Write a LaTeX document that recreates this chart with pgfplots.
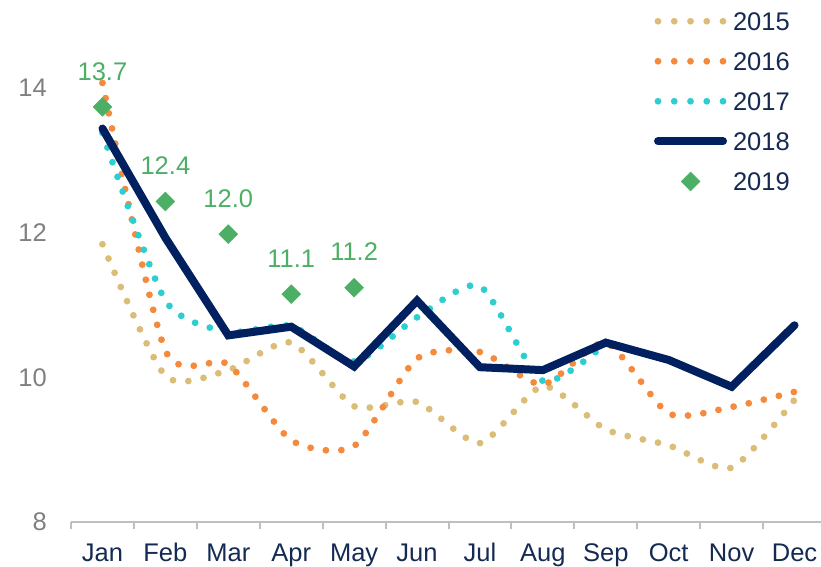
\documentclass[border=0pt]{standalone}
\usepackage{pgfplots}
\pgfplotsset{compat=1.18}
\usepackage{fontspec}
\setmainfont{Liberation Sans}
\definecolor{c15}{HTML}{DABE78}
\definecolor{c16}{HTML}{F5893C}
\definecolor{c17}{HTML}{2DCED0}
\definecolor{c18}{HTML}{002060}
\definecolor{c19}{HTML}{4CAF65}
\definecolor{txt}{HTML}{142A52}
\definecolor{gtxt}{HTML}{808080}
\definecolor{axgray}{HTML}{BFBFBF}
\newcommand\lsize{\fontsize{25.5}{30}\selectfont}
\pgfplotsset{
  dotleg/.style={legend image code/.code={\draw[##1, dash pattern=on 0pt off 16.25pt] (0pt,0pt) -- (65pt,0pt);}},
  lineleg/.style={legend image code/.code={\draw[##1] (0pt,0pt) -- (65pt,0pt);}},
  markleg/.style={legend image code/.code={\draw[##1] plot coordinates {(32.5pt,0pt)};}},
}
\begin{document}
\begin{tikzpicture}
\useasboundingbox (-71pt,-44pt) rectangle (750pt,522pt);
\begin{axis}[
  at={(0pt,0pt)}, anchor=south west,
  scale only axis, width=755pt, height=434pt,
  xmin=-0.5, xmax=11.5, ymin=8, ymax=14,
  clip=false,
  axis x line*=bottom, axis y line*=left,
  y axis line style={draw=none},
  x axis line style={axgray, line width=2pt},
  xtick={0,...,11},
  xticklabels={Jan,Feb,Mar,Apr,May,Jun,Jul,Aug,Sep,Oct,Nov,Dec},
  minor xtick={-0.5,0.5,...,11.5},
  tick align=outside,
  major tick length=0pt,
  minor tick length=7pt,
  minor tick style={axgray, line width=2pt},
  ytick={8,10,12,14},
  ytick style={draw=none},
  /pgf/number format/assume math mode=true,
  yticklabel style={font=\lsize, text=gtxt, anchor=east, inner sep=0pt, xshift=-24pt},
  xticklabel style={font=\lsize, text=txt, anchor=north, inner sep=0pt, text height=18.5pt, text depth=0pt, yshift=-20.5pt},
  legend style={draw=none, fill=none, inner sep=0pt, outer sep=0pt,
    at={(0.7722,1.1751)}, anchor=north west, font=\lsize, text=txt,
    row sep=21.5pt, nodes={inner sep=0pt, text height=18.5pt, text depth=0pt},
    /tikz/every odd column/.append style={column sep=6pt}},
  legend cell align=left,
]
\addplot[c15, line width=6.8pt, line cap=round, dash pattern=on 0pt off 15.5pt, smooth, tension=0.4, dotleg]
  coordinates {(0,11.84) (1,10.02) (2,10.10) (3,10.48) (4,9.60) (5,9.66) (6,9.09) (7,9.88) (8,9.28) (9,9.06) (10,8.75) (11,9.69)};
\addlegendentry{2015}
\addplot[c16, line width=6.8pt, line cap=round, dash pattern=on 0pt off 15.5pt, smooth, tension=0.4, dotleg]
  coordinates {(0,14.07) (1,10.37) (2,10.18) (3,9.13) (4,9.05) (5,10.26) (6,10.35) (7,9.90) (8,10.48) (9,9.50) (10,9.59) (11,9.80)};
\addlegendentry{2016}
\addplot[c17, line width=6.8pt, line cap=round, dash pattern=on 0pt off 15.5pt, smooth, tension=0.4, dotleg]
  coordinates {(0,13.38) (1,11.06) (2,10.63) (3,10.71) (4,10.22) (5,10.83) (6,11.26) (7,9.95) (8,10.47)};
\addlegendentry{2017}
\addplot[c18, line width=8pt, line cap=round, line join=miter, lineleg]
  coordinates {(0,13.44) (1,11.93) (2,10.58) (3,10.70) (4,10.15) (5,11.06) (6,10.14) (7,10.10) (8,10.48) (9,10.24) (10,9.87) (11,10.72)};
\addlegendentry{2018}
\addplot[c19, only marks, mark=square*, mark size=6.7pt, mark options={rotate=45, fill=c19, draw=c19},
  nodes near coords, point meta=explicit symbolic,
  nodes near coords style={font=\lsize, text=c19, anchor=base, inner sep=0pt, yshift=26.7pt},
  markleg]
  coordinates {(0,13.74) [13.7] (1,12.43) [12.4] (2,11.98) [12.0] (3,11.15) [11.1] (4,11.24) [11.2]};
\addlegendentry{2019}
\end{axis}
\end{tikzpicture}
\end{document}
